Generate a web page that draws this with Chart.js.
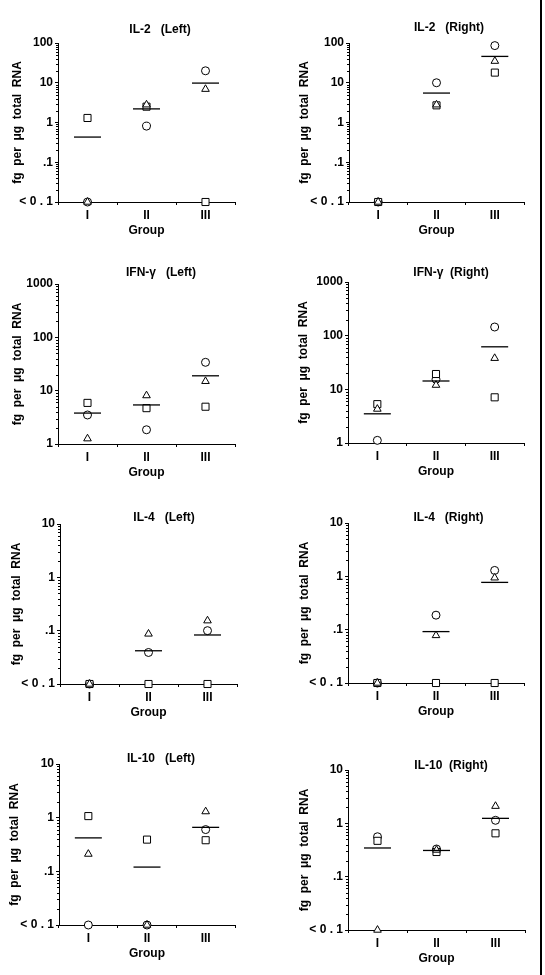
<!DOCTYPE html>
<html>
<head>
<meta charset="utf-8">
<script src="https://cdn.jsdelivr.net/npm/chart.js"></script>
<style>
  body { margin: 0; background: #fff; }
  #page { position: relative; width: 545px; height: 975px; overflow: hidden; background: #fff; }
  #page canvas { position: absolute; }
  #edge { position: absolute; left: 540px; top: 0; width: 2px; height: 975px; background: #000; }
</style>
</head>
<body>
<div id="page"><div id="edge"></div></div>
<script>
const groups = ['I', 'II', 'III'];

// y ticks; the bottom tick stands for "below detection" and is plotted at 0.01
const ticksIL2 = [0.01, 0.1, 1, 10, 100];
const tickLabelsIL2 = ['< 0 . 1', '.1', '1', '10', '100'];
const ticksIFN = [1, 10, 100, 1000];
const tickLabelsIFN = ['1', '10', '100', '1000'];
const ticksLow = [0.01, 0.1, 1, 10];
const tickLabelsLow = ['< 0 . 1', '.1', '1', '10'];

// IL-2 (Left)
const il2LeftCircle = [0.01, 0.81, 20];
const il2LeftTriangle = [0.01, 2.8, 6.9];
const il2LeftSquare = [1.3, 2.5, 0.01];
const il2LeftMean = [0.43, 2.2, 9.8];

// IL-2 (Right)
const il2RightCircle = [0.01, 10, 86];
const il2RightTriangle = [0.01, 2.8, 35];
const il2RightSquare = [0.01, 2.7, 18];
const il2RightMean = [null, 5.5, 46];

// IFN-γ (Left)
const ifnLeftCircle = [3.5, 1.85, 34];
const ifnLeftTriangle = [1.26, 8.1, 15];
const ifnLeftSquare = [5.9, 4.7, 5.0];
const ifnLeftMean = [3.8, 5.4, 19];

// IFN-γ (Right)
const ifnRightCircle = [1.12, 15.4, 145];
const ifnRightTriangle = [4.3, 12, 38];
const ifnRightSquare = [5.3, 19.3, 7.1];
const ifnRightMean = [3.5, 14.3, 62];

// IL-4 (Left)
const il4LeftCircle = [0.01, 0.039, 0.10];
const il4LeftTriangle = [0.01, 0.087, 0.154];
const il4LeftSquare = [0.01, 0.01, 0.01];
const il4LeftMean = [null, 0.042, 0.083];

// IL-4 (Right)
const il4RightCircle = [0.01, 0.187, 1.29];
const il4RightTriangle = [0.01, 0.078, 0.94];
const il4RightSquare = [0.01, 0.01, 0.01];
const il4RightMean = [null, 0.092, 0.77];

// IL-10 (Left)
const il10LeftCircle = [0.01, 0.01, 0.6];
const il10LeftTriangle = [0.21, 0.01, 1.3];
const il10LeftSquare = [1.07, 0.39, 0.38];
const il10LeftMean = [0.42, 0.12, 0.66];

// IL-10 (Right)
const il10RightCircle = [0.56, 0.33, 1.14];
const il10RightTriangle = [0.01, 0.316, 2.1];
const il10RightSquare = [0.47, 0.29, 0.65];
const il10RightMean = [0.345, 0.31, 1.24];

const yTitle = 'fg  per  μg  total  RNA';
const FONT = '"Liberation Sans", Arial, Helvetica, sans-serif';

// where each panel sits on the page (px)
const panels = [
  { title: 'IL-2   (Left)', circle: il2LeftCircle, triangle: il2LeftTriangle, square: il2LeftSquare, mean: il2LeftMean,
    ticks: ticksIL2, labels: tickLabelsIL2,
    left: 0, width: 272, axisX: 58, right: 235, top: 43, bottom: 202, yTitleX: 18, titleX: 160, titleY: 29 },
  { title: 'IL-2   (Right)', circle: il2RightCircle, triangle: il2RightTriangle, square: il2RightSquare, mean: il2RightMean,
    ticks: ticksIL2, labels: tickLabelsIL2,
    left: 272, width: 268, axisX: 349, right: 524, top: 43, bottom: 202, yTitleX: 304.5, titleX: 449, titleY: 27.5 },
  { title: 'IFN-γ   (Left)', circle: ifnLeftCircle, triangle: ifnLeftTriangle, square: ifnLeftSquare, mean: ifnLeftMean,
    ticks: ticksIFN, labels: tickLabelsIFN,
    left: 0, width: 272, axisX: 58, right: 235, top: 284, bottom: 444, yTitleX: 18, titleX: 161, titleY: 272 },
  { title: 'IFN-γ  (Right)', circle: ifnRightCircle, triangle: ifnRightTriangle, square: ifnRightSquare, mean: ifnRightMean,
    ticks: ticksIFN, labels: tickLabelsIFN,
    left: 272, width: 268, axisX: 348, right: 524, top: 282, bottom: 443, yTitleX: 304, titleX: 451, titleY: 272 },
  { title: 'IL-4   (Left)', circle: il4LeftCircle, triangle: il4LeftTriangle, square: il4LeftSquare, mean: il4LeftMean,
    ticks: ticksLow, labels: tickLabelsLow,
    left: 0, width: 272, axisX: 60, right: 237, top: 524, bottom: 684, yTitleX: 17, titleX: 164, titleY: 517 },
  { title: 'IL-4   (Right)', circle: il4RightCircle, triangle: il4RightTriangle, square: il4RightSquare, mean: il4RightMean,
    ticks: ticksLow, labels: tickLabelsLow,
    left: 272, width: 268, axisX: 348, right: 524, top: 523, bottom: 683, yTitleX: 304.5, titleX: 448.5, titleY: 517 },
  { title: 'IL-10   (Left)', circle: il10LeftCircle, triangle: il10LeftTriangle, square: il10LeftSquare, mean: il10LeftMean,
    ticks: ticksLow, labels: tickLabelsLow,
    left: 0, width: 272, axisX: 59, right: 235, top: 764, bottom: 925, yTitleX: 15, titleX: 161, titleY: 758 },
  { title: 'IL-10  (Right)', circle: il10RightCircle, triangle: il10RightTriangle, square: il10RightSquare, mean: il10RightMean,
    ticks: ticksLow, labels: tickLabelsLow,
    left: 272, width: 268, axisX: 348, right: 525, top: 770, bottom: 930, yTitleX: 304.5, titleX: 451, titleY: 765.5 },
];

Chart.defaults.font.family = FONT;
Chart.defaults.font.weight = 'bold';
Chart.defaults.color = '#000';

// panel title + small log ticks on the y axis
const decor = {
  id: 'decor',
  afterDraw(chart, args, opts) {
    const { ctx, chartArea } = chart;
    const y = chart.scales.y;
    ctx.save();
    ctx.strokeStyle = '#000';
    ctx.lineWidth = 1;
    ctx.beginPath();
    for (let d = y.min; d < y.max * 0.999; d *= 10) {
      for (let k = 2; k <= 9; k++) {
        const py = Math.round(y.getPixelForValue(d * k)) + 0.5;
        ctx.moveTo(chartArea.left - 2, py);
        ctx.lineTo(chartArea.left, py);
      }
    }
    ctx.stroke();
    ctx.fillStyle = '#000';
    ctx.font = 'bold 12px ' + FONT;
    ctx.textAlign = 'center';
    ctx.textBaseline = 'middle';
    ctx.fillText(opts.text, opts.x, opts.y);
    ctx.restore();
  }
};

const page = document.getElementById('page');

panels.forEach(p => {
  const canvas = document.createElement('canvas');
  const cTop = p.top - 43;
  const cHeight = p.bottom - p.top + 86;
  canvas.width = p.width;
  canvas.height = cHeight;
  canvas.style.left = p.left + 'px';
  canvas.style.top = cTop + 'px';
  canvas.style.width = p.width + 'px';
  canvas.style.height = cHeight + 'px';
  page.appendChild(canvas);

  const marks = [
    { data: p.mean, pointStyle: 'line', pointRadius: 13.5, pointBorderWidth: 1.3 },
    { data: p.triangle, pointStyle: 'triangle', pointRadius: 4.4, pointBorderWidth: 1 },
    { data: p.square, pointStyle: 'rect', pointRadius: 5, pointBorderWidth: 1 },
    { data: p.circle, pointStyle: 'circle', pointRadius: 4, pointBorderWidth: 1 },
  ].map(ds => Object.assign({
    showLine: false,
    borderColor: '#000',
    pointBorderColor: '#000',
    pointBackgroundColor: '#fff',
    pointHoverRadius: ds.pointRadius,
    clip: false,
  }, ds));

  new Chart(canvas, {
    type: 'line',
    data: { labels: groups, datasets: marks },
    options: {
      responsive: false,
      animation: false,
      events: [],
      layout: { padding: { top: 43, left: 0, bottom: 0, right: p.left + p.width - p.right } },
      plugins: {
        legend: { display: false },
        tooltip: { enabled: false },
        decor: { text: p.title, x: p.titleX - p.left, y: p.titleY - cTop + 0.6 },
      },
      scales: {
        x: {
          type: 'category',
          offset: true,
          grid: { display: true, drawOnChartArea: false, drawTicks: true, tickLength: 3, color: '#000', offset: true },
          border: { display: true, color: '#000', width: 1 },
          ticks: { padding: 3, color: '#000', font: { size: 12, weight: 'bold' }, maxRotation: 0, autoSkip: false },
          title: { display: true, text: 'Group', color: '#000', font: { size: 12, weight: 'bold' }, padding: { top: 0, bottom: 7 } },
          afterFit: s => { s.height = 43; },
        },
        y: {
          type: 'logarithmic',
          min: p.ticks[0],
          max: p.ticks[p.ticks.length - 1],
          grid: { display: true, drawOnChartArea: false, drawTicks: true, tickLength: 3, color: '#000' },
          border: { display: true, color: '#000', width: 1 },
          afterBuildTicks: s => { s.ticks = p.ticks.map(v => ({ value: v })); },
          ticks: {
            padding: 2,
            color: '#000',
            autoSkip: false,
            font: { size: 12, weight: 'bold' },
            callback: v => {
              const i = p.ticks.findIndex(t => Math.abs(Math.log10(t) - Math.log10(v)) < 1e-6);
              return i < 0 ? '' : p.labels[i];
            },
          },
          title: { display: true, text: yTitle, color: '#000', font: { size: 12, weight: 'bold' },
                   padding: { top: p.yTitleX - p.left - 7.2, bottom: 0 } },
          afterFit: s => { s.width = p.axisX - p.left; },
        },
      },
    },
    plugins: [decor],
  });
});
</script>
</body>
</html>
